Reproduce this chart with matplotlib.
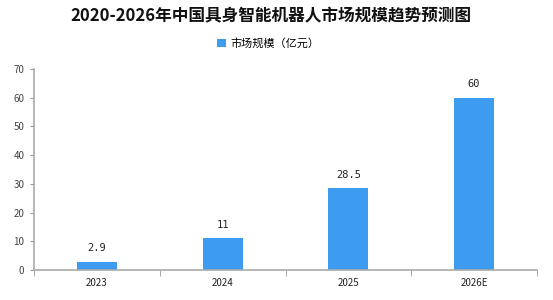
import matplotlib
matplotlib.use("Agg")
import matplotlib.pyplot as plt
import numpy as np

categories = ["2023", "2024", "2025", "2026E"]
values = [2.9, 11, 28.5, 60]
value_labels = ["2.9", "11", "28.5", "60"]
yticks = [0, 10, 20, 30, 40, 50, 60, 70]
title = "2020-2026年中国具身智能机器人市场规模趋势预测图"
series_name = "市场规模（亿元）"

plt.rcParams['font.family'] = ['Noto Sans CJK SC', 'DejaVu Sans']

fig = plt.figure(figsize=(5.53, 3.0), dpi=100)
ax = fig.add_axes([34/553, 30/300, 503/553, 201/300])

x = np.arange(len(categories))
color = "#3D9BF0"
bars = ax.bar(x, values, width=0.32, color=color, label=series_name, zorder=2)
for xi, v, lab in zip(x, values, value_labels):
    ax.text(xi, v + 3, lab, ha="center", va="bottom", fontsize=7.5,
            family=['DejaVu Sans Mono'], color="#222222")

ax.set_xlim(-0.5, len(categories) - 0.5)
ax.set_ylim(0, 70)
ax.set_yticks(yticks)
ax.set_yticklabels([str(t) for t in yticks], fontsize=7, color="#444444")
ax.set_xticks(x)
ax.set_xticklabels(categories, fontsize=7, color="#222222")
ax.tick_params(axis="x", length=0, pad=6)
ax.tick_params(axis="y", length=3, color="#999999", pad=4)
ax.set_xticks(np.arange(-0.5, len(categories)), minor=True)
ax.tick_params(axis="x", which="minor", length=4, color="#999999")

for s in ["top", "right"]:
    ax.spines[s].set_visible(False)
for s in ["left", "bottom"]:
    ax.spines[s].set_color("#aaaaaa")
    ax.spines[s].set_linewidth(1.2)

fig.text(0.49, 0.945, title, ha="center", va="center", fontsize=12,
         fontweight="bold", color="#111111")
leg = fig.legend(handles=[bars], labels=[series_name], loc="center",
                 bbox_to_anchor=(0.485, 0.855), frameon=False, fontsize=8,
                 handlelength=0.8, handleheight=0.8, handletextpad=0.4)

fig.savefig("out.png", dpi=100)
